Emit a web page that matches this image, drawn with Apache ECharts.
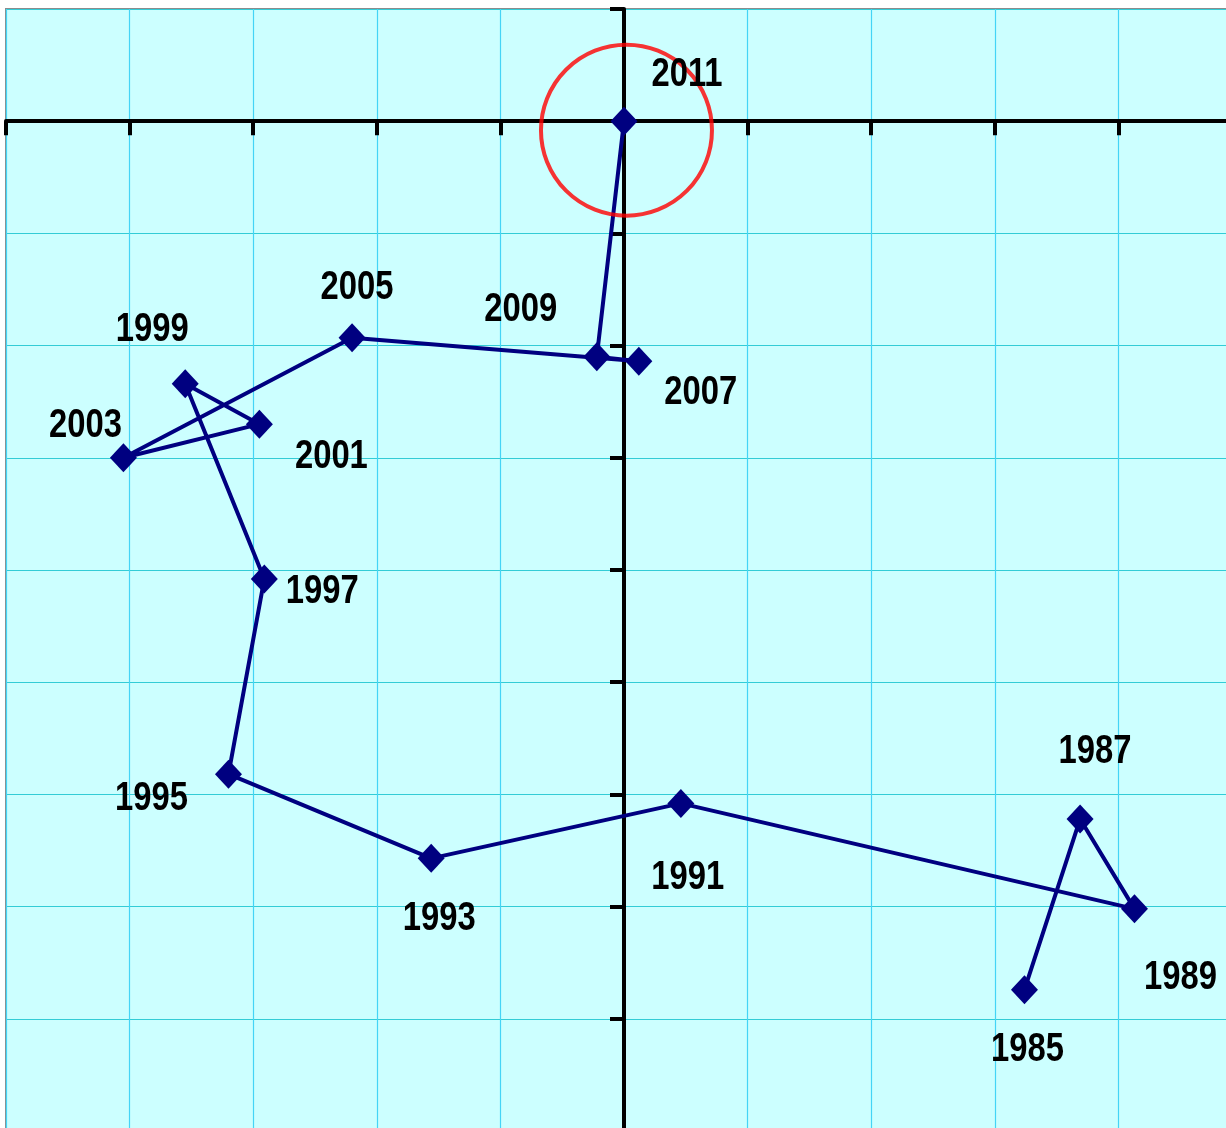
<!DOCTYPE html>
<html>
<head>
<meta charset="utf-8">
<style>
  html, body { margin: 0; padding: 0; background: #ffffff; overflow: hidden; width: 1226px; height: 1128px; }
  #chart { width: 1242px; height: 1131px; }
</style>
<script src="https://cdn.jsdelivr.net/npm/echarts@6/dist/echarts.min.js"></script>
</head>
<body>
<div id="chart"></div>
<script>
// Data
const years = ['1985','1987','1989','1991','1993','1995','1997','1999','2001','2003','2005','2007','2009','2011'];
const xValues = [3.24, 3.69, 4.13, 0.46, -1.56, -3.20, -2.91, -3.55, -2.95, -4.05, -2.20, 0.12, -0.22, 0.00];
const yValues = [-7.74, -6.22, -7.02, -6.08, -6.57, -5.82, -4.08, -2.34, -2.70, -3.00, -1.93, -2.14, -2.10, 0.00];
const highlight = [0.02, -0.08];

// label placement in pixels relative to each point (layout only)
const labelOffsets = [[3,60],[15,-67],[46,69],[7,74],[8,60],[-77,24],[58,13],[-33,-54],[72,33],[-38,-32],[5,-50],[62,31],[-76,-47],[63,-47]];

const chart = echarts.init(document.getElementById('chart'), null, { renderer: 'canvas' });

const points = years.map((y, i) => [xValues[i], yValues[i], i]);

chart.setOption({
  animation: false,
  grid: {
    left: 6, top: 9, right: 0, bottom: 0,
    show: true,
    backgroundColor: '#CCFFFF',
    borderColor: '#8c8c8c',
    borderWidth: 2
  },
  xAxis: {
    type: 'value', min: -5, max: 5, interval: 1,
    axisLine: { onZero: true, lineStyle: { color: '#000', width: 4 } },
    axisTick: { show: true, length: 14, lineStyle: { color: '#000', width: 4 } },
    axisLabel: { show: false },
    splitLine: { show: true, lineStyle: { color: '#44D4F6', width: 1.2 } }
  },
  yAxis: {
    type: 'value', min: -9, max: 1, interval: 1,
    axisLine: { onZero: true, lineStyle: { color: '#000', width: 4 } },
    axisTick: { show: true, length: 14, lineStyle: { color: '#000', width: 4 } },
    axisLabel: { show: false },
    splitLine: { show: true, lineStyle: { color: '#33CCD6', width: 1.2 } }
  },
  series: [
    {
      type: 'line',
      data: points,
      symbol: 'diamond',
      symbolSize: [27, 29],
      lineStyle: { color: '#000080', width: 4 },
      itemStyle: { color: '#000080' },
      z: 3
    },
    {
      type: 'custom',
      data: points,
      z: 5,
      silent: true,
      renderItem: function (params, api) {
        const i = api.value(2);
        const pt = api.coord([api.value(0), api.value(1)]);
        const off = labelOffsets[i];
        return {
          type: 'text',
          x: pt[0] + off[0],
          y: pt[1] + off[1],
          scaleX: 0.8,
          style: {
            text: years[i],
            fill: '#000',
            font: "bold 41px 'Liberation Sans', Arial, sans-serif",
            align: 'center',
            verticalAlign: 'middle'
          }
        };
      }
    },
    {
      type: 'scatter',
      data: [highlight],
      symbol: 'circle',
      symbolSize: 171,
      itemStyle: { color: 'rgba(0,0,0,0)', borderColor: '#FF0000', borderWidth: 4 },
      silent: true,
      z: 4
    }
  ]
});
</script>
</body>
</html>
